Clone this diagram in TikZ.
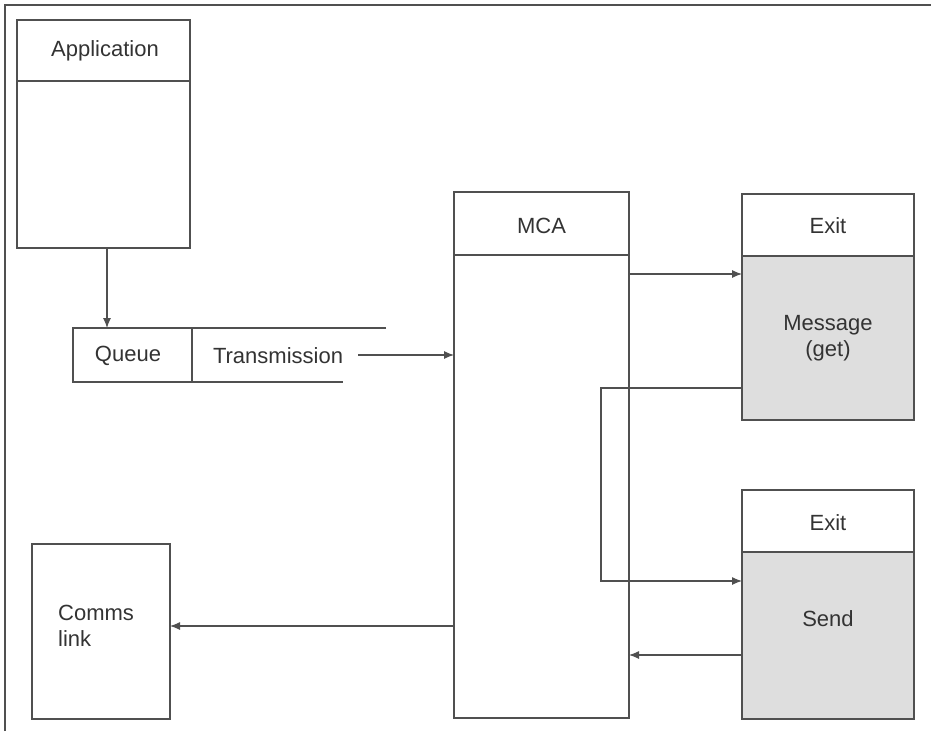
\documentclass[tikz,border=0pt]{standalone}
\usepackage{fontspec}
\setmainfont{Liberation Sans}
\usetikzlibrary{arrows.meta}
\definecolor{ln}{HTML}{505050}
\definecolor{tx}{HTML}{333333}
\definecolor{gf}{HTML}{DEDEDE}
\begin{document}
\begin{tikzpicture}[x=1pt,y=-1pt,
  ln/.style={draw=ln,line width=1.4pt},
  conn/.style={draw=ln,line width=1.1pt},
  arr/.style={conn,-{Latex[length=10pt,width=8pt]}},
  lbl/.style={text=tx,font=\fontsize{22}{26}\selectfont,inner sep=0pt,align=center}]
\useasboundingbox (0,0) rectangle (931,731);
% outer frame (top and left only)
\draw[ln] (5,731) -- (5,5) -- (931,5);
% Application
\draw[ln] (17,20) rectangle (190,248);
\draw[ln] (17,81) -- (190,81);
\node[lbl] (app) at (105,51) {Application};
% Queue
\draw[ln] (386,328) -- (73,328) -- (73,382) -- (343,382);
\draw[ln] (192,328) -- (192,382);
\node[lbl] (queue) at (128,356) {Queue};
\node[lbl] (trans) at (278,356) {Transmission};
% MCA
\draw[ln] (454,192) rectangle (629,718);
\draw[ln] (454,255) -- (629,255);
\node[lbl] (mca) at (541.5,226) {MCA};
% Exit 1
\fill[gf] (742,256) rectangle (914,420);
\draw[ln] (742,194) rectangle (914,420);
\draw[ln] (742,256) -- (914,256);
\node[lbl] (exit1) at (828,226) {Exit};
\node[lbl] (msg) at (828,338) {Message\\(get)};
% Exit 2
\fill[gf] (742,552) rectangle (914,719);
\draw[ln] (742,490) rectangle (914,719);
\draw[ln] (742,552) -- (914,552);
\node[lbl] (exit2) at (828,523) {Exit};
\node[lbl] (send) at (828,619) {Send};
% Comms link
\draw[ln] (32,544) rectangle (170,719);
\node[lbl,align=left,anchor=west] (comms) at (58,626) {Comms\\link};
% connectors
\coordinate (a1) at (107,248);
\coordinate (a2) at (107,328);
\draw[arr] (a1) -- (a2);
\coordinate (t1) at (358,355);
\coordinate (t2) at (454,355);
\draw[arr] (t1) -- (t2);
\coordinate (m1) at (629,274);
\coordinate (m2) at (742,274);
\draw[arr] (m1) -- (m2);
\coordinate (g1) at (742,388);
\coordinate (g2) at (601,388);
\coordinate (g3) at (601,581);
\coordinate (g4) at (742,581);
\draw[arr] (g1) -- (g2) -- (g3) -- (g4);
\coordinate (s1) at (742,655);
\coordinate (s2) at (629,655);
\draw[arr] (s1) -- (s2);
\coordinate (c1) at (454,626);
\coordinate (c2) at (170,626);
\draw[arr] (c1) -- (c2);
\end{tikzpicture}
\end{document}
